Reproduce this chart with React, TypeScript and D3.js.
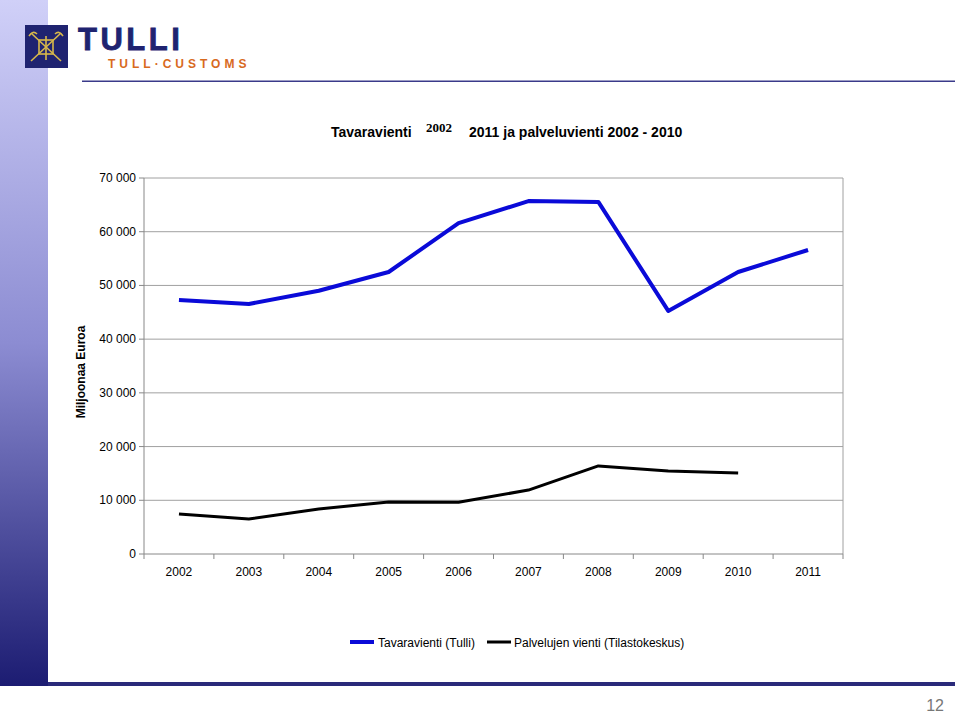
import React from "react";
import * as d3 from "d3";

const years = ["2002", "2003", "2004", "2005", "2006", "2007", "2008", "2009", "2010", "2011"];
const goodsExports = [47300, 46550, 49000, 52500, 61600, 65700, 65550, 45250, 52500, 56600];
const serviceExports = [7450, 6500, 8380, 9700, 9650, 11900, 16400, 15450, 15100];
const yTicks = [0, 10000, 20000, 30000, 40000, 50000, 60000, 70000];
const seriesNames = ["Tavaravienti (Tulli)", "Palvelujen vienti (Tilastokeskus)"];

const W = 959, H = 714;
const m = { left: 144, right: 843, top: 178, bottom: 554 };

export default function App() {
  const x = d3.scaleBand<string>().domain(years).range([m.left, m.right]);
  const y = d3.scaleLinear().domain([0, 70000]).range([m.bottom, m.top]);
  const cx = (yr: string) => (x(yr) as number) + x.bandwidth() / 2;
  const line = d3.line<number>().x((_, i) => cx(years[i])).y((v) => y(v));
  const fmt = (v: number) => d3.format(",")(v).replace(/,/g, " ");
  const font = "Arial, 'Liberation Sans', sans-serif";

  return (
    <div style={{ position: "absolute", left: 0, top: 0 }}>
      <svg width={W} height={H} style={{ display: "block", background: "#fff" }}>
        <defs>
          <linearGradient id="side" x1="0" y1="0" x2="0" y2="1">
            <stop offset="0" stopColor="#d0d0f8" />
            <stop offset="0.5" stopColor="#8c8cd2" />
            <stop offset="1" stopColor="#1c1c72" />
          </linearGradient>
        </defs>
        {/* sidebar */}
        <rect x={0} y={0} width={48} height={686} fill="url(#side)" />
        {/* bottom bar */}
        <rect x={48} y={682} width={907} height={4} fill="#2a2a7a" />
        {/* header line */}
        <rect x={82} y={80.5} width={873} height={1.5} fill="#3a3a8a" />
        {/* logo */}
        <rect x={25} y={25} width={43} height={43} fill="#1f2370" />
        <g stroke="#d8b84a" strokeWidth={1.6} fill="none">
          <line x1={31} y1={33} x2={61} y2={61} />
          <line x1={61} y1={33} x2={31} y2={61} />
          <rect x={39} y={40} width={14} height={14} />
          <line x1={46} y1={36} x2={46} y2={60} />
          <path d="M29 36 q4 -6 8 -2 M63 36 q-4 -6 -8 -2" />
        </g>
        <text x={78} y={50} fontFamily={font} fontWeight="900" fontSize={31} fill="#1f2370" letterSpacing={3.5} stroke="#1f2370" strokeWidth={0.8}>TULLI</text>
        <text x={108} y={68} fontFamily={font} fontWeight="bold" fontSize={12} fill="#d86a1e" letterSpacing={4}>TULL·CUSTOMS</text>

        {/* title */}
        <text x={331} y={137} fontFamily={font} fontWeight="bold" fontSize={14} fill="#000">Tavaravienti</text>
        <text x={426} y={132} fontFamily="'Liberation Serif', 'Times New Roman', serif" fontWeight="bold" fontSize={13} fill="#000">2002</text>
        <text x={469} y={137} fontFamily={font} fontWeight="bold" fontSize={14} fill="#000">2011 ja palveluvienti 2002 - 2010</text>

        {/* grid */}
        {yTicks.map((t) => (
          <g key={t}>
            {t > 0 && <line x1={m.left} x2={m.right} y1={y(t)} y2={y(t)} stroke="#a0a0a0" strokeWidth={1} />}
            <line x1={m.left - 5} x2={m.left} y1={y(t)} y2={y(t)} stroke="#888" />
            <text x={136} y={y(t) + 4} textAnchor="end" fontFamily={font} fontSize={12} fill="#000">{fmt(t)}</text>
          </g>
        ))}
        <line x1={m.right} x2={m.right} y1={m.top} y2={m.bottom} stroke="#a0a0a0" />
        <line x1={m.left} x2={m.left} y1={m.top} y2={m.bottom} stroke="#888" />
        <line x1={m.left} x2={m.right} y1={m.bottom} y2={m.bottom} stroke="#888" />
        {years.map((yr, i) => (
          <g key={yr}>
            <line x1={x(yr) as number} x2={x(yr) as number} y1={m.bottom} y2={m.bottom + 5} stroke="#888" />
            {i === years.length - 1 && <line x1={m.right} x2={m.right} y1={m.bottom} y2={m.bottom + 5} stroke="#888" />}
            <text x={cx(yr)} y={576} textAnchor="middle" fontFamily={font} fontSize={12} fill="#000">{yr}</text>
          </g>
        ))}

        <text transform={`translate(85,372) rotate(-90)`} textAnchor="middle" fontFamily={font} fontWeight="bold" fontSize={12} fill="#000">Miljoonaa Euroa</text>

        {/* lines */}
        <path d={line(goodsExports) as string} fill="none" stroke="#0a0ad8" strokeWidth={4} strokeLinejoin="round" />
        <path d={line(serviceExports) as string} fill="none" stroke="#000" strokeWidth={3} strokeLinejoin="round" />

        {/* legend */}
        <line x1={350} x2={374} y1={642} y2={642} stroke="#0a0ad8" strokeWidth={4} />
        <text x={378} y={647} fontFamily={font} fontSize={12} fill="#000">{seriesNames[0]}</text>
        <line x1={487} x2={511} y1={642} y2={642} stroke="#000" strokeWidth={3} />
        <text x={514} y={647} fontFamily={font} fontSize={12} fill="#000">{seriesNames[1]}</text>

        <text x={944} y={711} textAnchor="end" fontFamily={font} fontSize={16} fill="#777">12</text>
      </svg>
    </div>
  );
}
